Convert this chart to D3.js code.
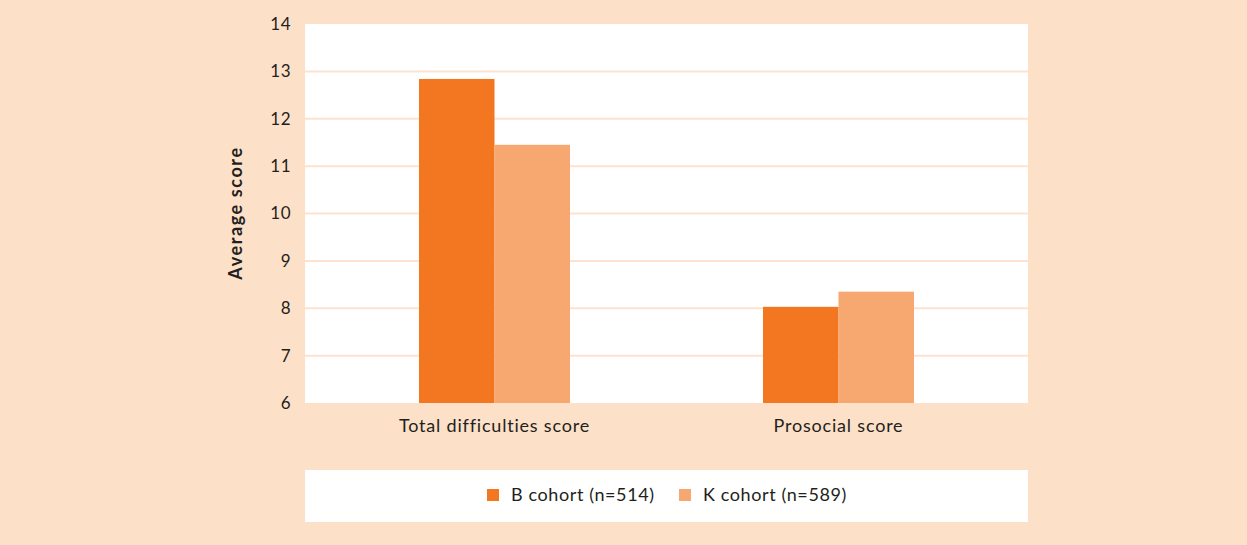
<!DOCTYPE html>
<meta charset="utf-8">
<head>
  <title>Average score by cohort</title>
</head>
<script src="https://d3js.org/d3.v7.min.js"></script>
<style>
  body { margin: 0; background: #fde0c8; }
  text { font-family: "Lato", "Open Sans", sans-serif; fill: #231f20; }
</style>
<body>
  <div id="my_dataviz"></div>
</body>
<script>
  // data
  var categories = ["Total difficulties score", "Prosocial score"];
  var seriesNames = ["B cohort (n=514)", "K cohort (n=589)"];
  var bCohort = [12.84, 8.03];
  var kCohort = [11.45, 8.35];
  var yTicks = [6, 7, 8, 9, 10, 11, 12, 13, 14];
  var colors = ["#f37721", "#f7a871"];

  var W = 1247, H = 545;
  var plot = { left: 305, right: 1028, top: 24, bottom: 403 };

  var svg = d3.select("#my_dataviz")
    .append("svg")
    .attr("width", W)
    .attr("height", H)

  svg.append("rect")
    .attr("width", W).attr("height", H)
    .attr("fill", "#fde0c8")

  // white plot panel
  svg.append("rect")
    .attr("x", plot.left).attr("y", plot.top)
    .attr("width", plot.right - plot.left)
    .attr("height", plot.bottom - plot.top)
    .attr("fill", "white")

  var y = d3.scaleLinear()
    .domain([6, 14])
    .range([plot.bottom, plot.top]);

  var x0 = d3.scaleBand()
    .domain(categories)
    .range([322.5, 1010.5])
    .padding(0);

  var x1 = d3.scaleBand()
    .domain(seriesNames)
    .range([0, 151]);

  // gridlines
  svg.append("g")
    .selectAll("line")
    .data(yTicks.filter(function (d) { return d > 6 && d < 14 }))
    .enter()
    .append("line")
    .attr("x1", plot.left).attr("x2", plot.right)
    .attr("y1", function (d) { return y(d) })
    .attr("y2", function (d) { return y(d) })
    .attr("stroke", "#fde3cf")
    .attr("stroke-width", 2)

  // y tick labels
  var yAxis = svg.append("g")
    .attr("transform", "translate(" + plot.left + ",0)")
    .call(d3.axisLeft(y).tickValues(yTicks).tickSize(0).tickPadding(14))
  yAxis.select(".domain").remove()
  yAxis.selectAll("text")
    .style("font-size", "17px")
    .style("letter-spacing", "0.5px")
    .attr("fill", "#231f20")

  svg.append("text")
    .attr("transform", "translate(242,213) rotate(-90)")
    .attr("text-anchor", "middle")
    .style("font-size", "18px")
    .style("font-weight", "bold")
    .style("letter-spacing", "1.6px")
    .text("Average score")

  // bars
  var rows = categories.map(function (c, i) {
    return { cat: c, vals: [bCohort[i], kCohort[i]] };
  });

  var groups = svg.append("g")
    .selectAll("g")
    .data(rows)
    .enter()
    .append("g")
    .attr("transform", function (d) {
      return "translate(" + (x0(d.cat) + x0.bandwidth() / 2 - 75.5) + ",0)";
    })

  groups.selectAll("rect")
    .data(function (d) { return d.vals.map(function (v, j) { return { name: seriesNames[j], value: v, j: j } }) })
    .enter()
    .append("rect")
    .attr("x", function (d) { return x1(d.name) })
    .attr("width", x1.bandwidth())
    .attr("y", function (d) { return y(d.value) })
    .attr("height", function (d) { return y(6) - y(d.value) })
    .attr("fill", function (d) { return colors[d.j] })

  // category labels
  var xAxis = svg.append("g")
    .attr("transform", "translate(0," + plot.bottom + ")")
    .call(d3.axisBottom(x0).tickSize(0).tickPadding(16))
  xAxis.select(".domain").remove()
  xAxis.selectAll("text")
    .style("font-size", "18px")
    .style("letter-spacing", "0.8px")
    .attr("fill", "#231f20")

  // legend
  svg.append("rect")
    .attr("x", plot.left).attr("y", 470)
    .attr("width", plot.right - plot.left).attr("height", 52)
    .attr("fill", "white")

  var legendX = [487, 679];
  var legend = svg.append("g")
    .selectAll("g")
    .data(seriesNames)
    .enter()
    .append("g")
    .attr("transform", function (d, i) { return "translate(" + legendX[i] + ",489)" })

  legend.append("rect")
    .attr("width", 12).attr("height", 12)
    .attr("fill", function (d, i) { return colors[i] })

  legend.append("text")
    .attr("x", 24).attr("y", 6)
    .attr("dy", "0.35em")
    .style("font-size", "18px")
    .style("letter-spacing", "0.6px")
    .text(function (d) { return d })
</script>
